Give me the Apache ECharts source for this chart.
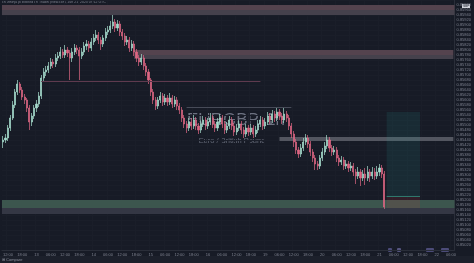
<!DOCTYPE html>
<html><head><meta charset="utf-8">
<script src="https://cdn.jsdelivr.net/npm/echarts@6/dist/echarts.min.js"></script>
<style>html,body{margin:0;padding:0;background:#171b26;}#c{width:474px;height:263px;}</style>
</head><body><div id="c"></div>
<script>
// x-axis tick labels (every 6th hourly bar, starting at bar 2)
const tickLabels = ['12:00','18:00','13','06:00','12:00','18:00','14','06:00','12:00','18:00','15','06:00','12:00','18:00','16','06:00','12:00','18:00','19','06:00','12:00','18:00','20','06:00','12:00','18:00','21','06:00','12:00','18:00','22','06:00'];
const barCount = 190; // hourly slots incl. empty future space
// EURGBP 1h candles: [open, close, low, high]
const ohlc = [
[0.85432,0.85440,0.85408,0.85456],[0.85440,0.85448,0.85428,0.85464],[0.85448,0.85488,0.85436,0.85500],[0.85488,0.85528,0.85476,0.85540],
[0.85528,0.85580,0.85520,0.85596],[0.85580,0.85632,0.85568,0.85644],[0.85632,0.85664,0.85620,0.85680],[0.85664,0.85640,0.85628,0.85672],
[0.85640,0.85612,0.85600,0.85652],[0.85612,0.85600,0.85584,0.85624],[0.85600,0.85568,0.85552,0.85608],[0.85568,0.85512,0.85480,0.85580],
[0.85512,0.85536,0.85496,0.85548],[0.85536,0.85568,0.85524,0.85580],[0.85568,0.85584,0.85552,0.85600],[0.85584,0.85616,0.85572,0.85632],
[0.85616,0.85688,0.85604,0.85700],[0.85688,0.85712,0.85676,0.85728],[0.85712,0.85720,0.85696,0.85736],[0.85720,0.85736,0.85708,0.85752],
[0.85736,0.85752,0.85724,0.85768],[0.85752,0.85744,0.85728,0.85764],[0.85744,0.85768,0.85732,0.85784],[0.85768,0.85776,0.85756,0.85792],
[0.85776,0.85792,0.85764,0.85812],[0.85792,0.85780,0.85768,0.85804],[0.85780,0.85800,0.85768,0.85820],[0.85800,0.85788,0.85772,0.85812],
[0.85788,0.85768,0.85680,0.85800],[0.85768,0.85792,0.85752,0.85808],[0.85792,0.85808,0.85780,0.85824],[0.85808,0.85800,0.85784,0.85820],
[0.85800,0.85776,0.85680,0.85812],[0.85776,0.85792,0.85764,0.85808],[0.85792,0.85816,0.85780,0.85832],[0.85816,0.85824,0.85800,0.85840],
[0.85824,0.85808,0.85792,0.85836],[0.85808,0.85832,0.85796,0.85848],[0.85832,0.85848,0.85820,0.85864],[0.85848,0.85860,0.85836,0.85880],
[0.85860,0.85840,0.85824,0.85872],[0.85840,0.85824,0.85800,0.85852],[0.85824,0.85848,0.85812,0.85860],[0.85848,0.85872,0.85836,0.85888],
[0.85872,0.85880,0.85860,0.85896],[0.85880,0.85896,0.85868,0.85916],[0.85896,0.85912,0.85884,0.85940],[0.85912,0.85888,0.85872,0.85924],
[0.85888,0.85904,0.85876,0.85920],[0.85904,0.85872,0.85856,0.85916],[0.85872,0.85856,0.85840,0.85884],[0.85856,0.85832,0.85816,0.85868],
[0.85832,0.85840,0.85820,0.85856],[0.85840,0.85808,0.85792,0.85852],[0.85808,0.85824,0.85796,0.85840],[0.85824,0.85792,0.85776,0.85836],
[0.85792,0.85768,0.85752,0.85804],[0.85768,0.85752,0.85736,0.85780],[0.85752,0.85768,0.85740,0.85784],[0.85768,0.85736,0.85720,0.85780],
[0.85736,0.85712,0.85696,0.85748],[0.85712,0.85680,0.85664,0.85724],[0.85680,0.85632,0.85616,0.85688],[0.85632,0.85600,0.85584,0.85644],
[0.85600,0.85576,0.85560,0.85612],[0.85576,0.85600,0.85564,0.85612],[0.85600,0.85616,0.85588,0.85632],[0.85616,0.85592,0.85576,0.85628],
[0.85592,0.85608,0.85580,0.85624],[0.85608,0.85592,0.85576,0.85620],[0.85592,0.85608,0.85580,0.85628],[0.85608,0.85584,0.85568,0.85620],
[0.85584,0.85600,0.85572,0.85616],[0.85600,0.85576,0.85560,0.85612],[0.85576,0.85560,0.85544,0.85588],[0.85560,0.85528,0.85512,0.85572],
[0.85528,0.85504,0.85488,0.85540],[0.85504,0.85488,0.85468,0.85516],[0.85488,0.85512,0.85476,0.85528],[0.85512,0.85496,0.85480,0.85528],
[0.85496,0.85520,0.85484,0.85540],[0.85520,0.85496,0.85480,0.85532],[0.85496,0.85480,0.85464,0.85508],[0.85480,0.85504,0.85468,0.85520],
[0.85504,0.85520,0.85492,0.85536],[0.85520,0.85496,0.85480,0.85532],[0.85496,0.85512,0.85484,0.85528],[0.85512,0.85528,0.85500,0.85548],
[0.85528,0.85504,0.85488,0.85540],[0.85504,0.85488,0.85472,0.85516],[0.85488,0.85512,0.85476,0.85528],[0.85512,0.85528,0.85500,0.85544],
[0.85528,0.85504,0.85488,0.85540],[0.85504,0.85480,0.85464,0.85516],[0.85480,0.85496,0.85468,0.85512],[0.85496,0.85520,0.85484,0.85536],
[0.85520,0.85496,0.85480,0.85532],[0.85496,0.85472,0.85456,0.85508],[0.85472,0.85488,0.85460,0.85504],[0.85488,0.85504,0.85476,0.85520],
[0.85504,0.85480,0.85464,0.85516],[0.85480,0.85464,0.85448,0.85492],[0.85464,0.85488,0.85452,0.85504],[0.85488,0.85472,0.85456,0.85500],
[0.85472,0.85488,0.85460,0.85504],[0.85488,0.85464,0.85448,0.85500],[0.85464,0.85480,0.85452,0.85496],[0.85480,0.85504,0.85468,0.85520],
[0.85504,0.85520,0.85492,0.85536],[0.85520,0.85496,0.85480,0.85532],[0.85496,0.85512,0.85484,0.85528],[0.85512,0.85536,0.85500,0.85552],
[0.85536,0.85520,0.85504,0.85548],[0.85520,0.85544,0.85508,0.85560],[0.85544,0.85528,0.85512,0.85556],[0.85528,0.85552,0.85516,0.85568],
[0.85552,0.85536,0.85520,0.85564],[0.85536,0.85520,0.85504,0.85548],[0.85520,0.85544,0.85508,0.85568],[0.85544,0.85528,0.85512,0.85556],
[0.85528,0.85496,0.85480,0.85540],[0.85496,0.85464,0.85448,0.85508],[0.85464,0.85432,0.85412,0.85476],[0.85432,0.85400,0.85384,0.85444],
[0.85400,0.85384,0.85368,0.85412],[0.85384,0.85408,0.85372,0.85424],[0.85408,0.85432,0.85396,0.85448],[0.85432,0.85448,0.85420,0.85464],
[0.85448,0.85424,0.85408,0.85460],[0.85424,0.85392,0.85376,0.85436],[0.85392,0.85368,0.85352,0.85404],[0.85368,0.85344,0.85320,0.85380],
[0.85344,0.85336,0.85320,0.85356],[0.85336,0.85368,0.85324,0.85380],[0.85368,0.85392,0.85356,0.85408],[0.85392,0.85416,0.85380,0.85432],
[0.85416,0.85440,0.85404,0.85460],[0.85440,0.85408,0.85392,0.85452],[0.85408,0.85392,0.85376,0.85420],[0.85392,0.85400,0.85380,0.85416],
[0.85400,0.85368,0.85352,0.85412],[0.85368,0.85352,0.85336,0.85380],[0.85352,0.85360,0.85340,0.85376],[0.85360,0.85336,0.85320,0.85372],
[0.85336,0.85344,0.85324,0.85360],[0.85344,0.85328,0.85312,0.85356],[0.85328,0.85336,0.85316,0.85352],[0.85336,0.85312,0.85296,0.85348],
[0.85312,0.85296,0.85264,0.85324],[0.85296,0.85312,0.85284,0.85332],[0.85312,0.85288,0.85256,0.85324],[0.85288,0.85304,0.85276,0.85320],
[0.85304,0.85288,0.85260,0.85328],[0.85288,0.85312,0.85276,0.85336],[0.85312,0.85296,0.85272,0.85324],[0.85296,0.85312,0.85284,0.85332],
[0.85312,0.85296,0.85280,0.85328],[0.85296,0.85312,0.85284,0.85336],[0.85312,0.85328,0.85296,0.85344],[0.85328,0.85304,0.85288,0.85340],
[0.85304,0.85172,0.85164,0.85316]
];
// horizontal zones: [fromBar, toBar, priceTop, priceBottom, colour]  (null bar = full width)
const zoneTop1 = [null, null, 0.85980, 0.85960, '#54434e'];
const zoneTop2 = [null, null, 0.85960, 0.85940, '#45414c'];
const zoneMid1 = [55, 189, 0.85800, 0.85780, '#54434e'];
const zoneMid2 = [55, 189, 0.85780, 0.85764, '#45414c'];
const zoneGray = [116, 189, 0.85452, 0.85436, '#535660'];
const zoneGreen = [null, null, 0.85200, 0.85168, '#3c564e'];
const zoneGrayLow = [null, null, 0.85168, 0.85144, '#343744'];
// long position tool
const posFrom = 161, posTo = 175;
const target = 0.85552, entry = 0.85216, stop = 0.85168;
const lastClose = 0.85172;
// trend lines: [fromBar, toBar, price, colour]
const pinkLine = [16, 108, 0.85676, '#5e3a4e'];
const grayLine = [77, 121, 0.85572, '#474b58'];

const categories = [];
for (let i = 0; i < barCount; i++) categories.push((i - 2) % 6 === 0 ? tickLabels[(i - 2) / 6] : '');

function zone(z) {
  const a = {yAxis: z[2], itemStyle: {color: z[4]}};
  const b = {yAxis: z[3]};
  if (z[0] !== null) { a.xAxis = z[0]; b.xAxis = z[1]; }
  return [a, b];
}
function seg(l) {
  return [{coord: [l[0], l[2]], lineStyle: {color: l[3], width: 1, type: 'solid'}, label: {show: false}}, {coord: [l[1], l[2]]}];
}
function priceTag(p, bg) {
  return {yAxis: p, lineStyle: {opacity: 0}, label: {show: true, position: 'end', distance: 1, formatter: p.toFixed(5), backgroundColor: bg, color: '#ffffff', fontSize: 4, padding: [1, 1], fontFamily: 'Liberation Sans'}};
}
const isTick = (i) => (i - 2) % 6 === 0;
const up = '#a6dccd', down = '#dc6682';

const chart = echarts.init(document.getElementById('c'), null, {renderer: 'canvas'});
chart.setOption({
  backgroundColor: '#171b26',
  animation: false,
  grid: {left: 0, right: 13, top: 0, bottom: 13},
  xAxis: {
    type: 'category', data: categories, boundaryGap: true,
    axisLine: {show: true, lineStyle: {color: '#2a2e39'}},
    axisTick: {show: false},
    axisLabel: {interval: isTick, fontSize: 4, color: '#7f8390', margin: 3, fontFamily: 'Liberation Sans'},
    splitLine: {show: true, interval: isTick, lineStyle: {color: '#1a1e29'}}
  },
  yAxis: {
    type: 'value', position: 'right', min: 0.85, max: 0.86, interval: 0.0002,
    axisLine: {show: true, lineStyle: {color: '#2a2e39'}},
    axisTick: {show: false},
    axisLabel: {fontSize: 4, color: '#7f8390', margin: 2, showMaxLabel: false, showMinLabel: false, fontFamily: 'Liberation Sans', formatter: v => v.toFixed(5)},
    splitLine: {show: true, lineStyle: {color: '#1a1e29'}}
  },
  graphic: [
    {type: 'text', z: -1, style: {x: 236, y: 120, text: 'EURGBP, 1h', textAlign: 'center', textVerticalAlign: 'middle', fill: '#6c7180', font: '17px "Liberation Sans"'}},
    {type: 'text', z: -1, style: {x: 232, y: 141, text: 'Euro / British Pound', textAlign: 'center', textVerticalAlign: 'middle', fill: '#666b79', font: '7.5px "Liberation Sans"'}},
    {type: 'text', style: {x: 2, y: 0, text: 'chartninja published on TradingView.com, Jun 21, 2023 09:12 UTC', fill: '#7f8390', font: '3.5px "Liberation Sans"'}},
    {type: 'text', style: {x: 2, y: 5, text: 'Euro / British Pound · 1h · OANDA   O0.85304 H0.85316', fill: '#a4a7b0', font: '3.5px "Liberation Sans"'}},
    {type: 'text', style: {x: 2, y: 9, text: 'L0.85164 C0.85172 −0.00132 (−0.15%)', fill: '#a4a7b0', font: '3.5px "Liberation Sans"'}},
    {type: 'rect', shape: {x: 462, y: 4, width: 8, height: 4}, style: {fill: '#d1d4dc'}},
    {type: 'text', style: {x: 463, y: 4.5, text: 'GBP', fill: '#131722', font: '3px "Liberation Sans"'}},
    {type: 'rect', shape: {x: 0, y: 256, width: 474, height: 7}, style: {fill: '#1c202b'}},
    {type: 'text', style: {x: 2, y: 257.5, text: '⊞ Compare', fill: '#8c909c', font: '4px "Liberation Sans"'}},
    {type: 'rect', shape: {x: 388, y: 248, width: 4, height: 4, r: 1}, style: {fill: '#4b4b78'}},
    {type: 'rect', shape: {x: 397, y: 248, width: 4, height: 4, r: 1}, style: {fill: '#55557f'}},
    {type: 'rect', shape: {x: 426, y: 248, width: 8, height: 4, r: 1}, style: {fill: '#4b4b78'}},
    {type: 'rect', shape: {x: 441, y: 248, width: 8, height: 4, r: 1}, style: {fill: '#4b4b78'}},
    {type: 'rect', shape: {x: 396, y: 165, width: 3, height: 1}, style: {fill: '#9aa0a8'}}
  ],
  series: [{
    type: 'candlestick', data: ohlc, barWidth: 1.6,
    itemStyle: {color: up, color0: down, borderColor: up, borderColor0: down, borderWidth: 0.7},
    markArea: {silent: true, data: [
      zone(zoneTop1), zone(zoneTop2), zone(zoneMid1), zone(zoneMid2), zone(zoneGray), zone(zoneGreen), zone(zoneGrayLow),
      [{xAxis: posFrom, yAxis: target, itemStyle: {color: 'rgba(38,166,154,0.12)'}}, {xAxis: posTo, yAxis: entry}],
      [{xAxis: posFrom, yAxis: entry, itemStyle: {color: 'rgba(242,54,69,0.12)'}}, {xAxis: posTo, yAxis: stop}]
    ]},
    markLine: {silent: true, symbol: 'none', animation: false, data: [
      seg(pinkLine), seg(grayLine),
      [{coord: [posFrom, entry], lineStyle: {color: '#2e8f7e', width: 0.8, type: 'solid'}, label: {show: false}}, {coord: [posTo, entry]}],
      priceTag(target, '#2bbd98'), priceTag(entry, '#2aa98c'), priceTag(lastClose, '#f23645')
    ]}
  }]
});
</script>
</body></html>
